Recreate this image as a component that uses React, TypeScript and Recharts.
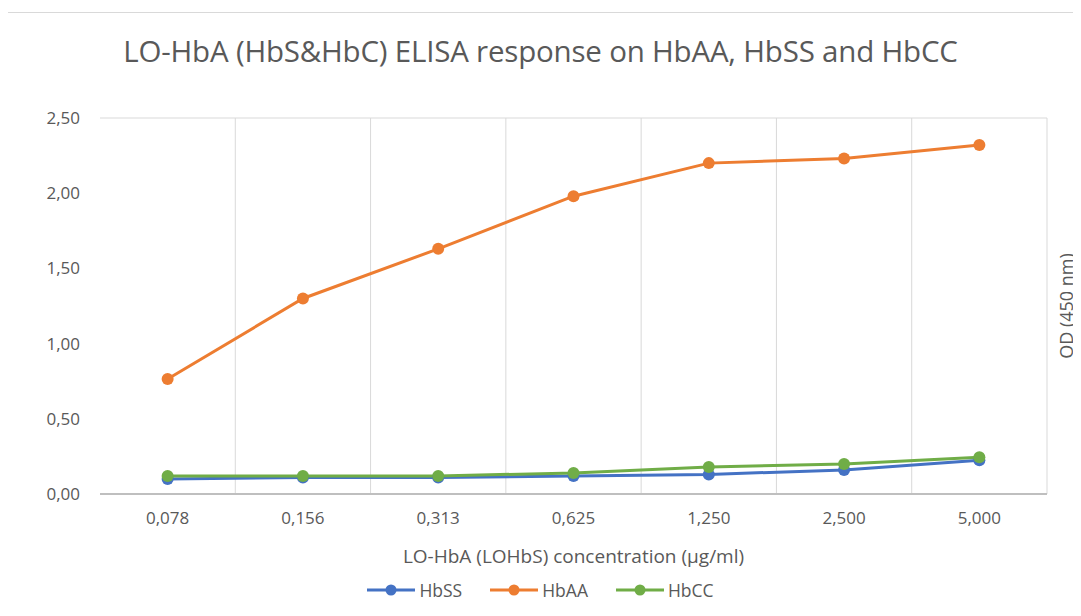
import { LineChart, Line, XAxis, YAxis, CartesianGrid, Legend } from 'recharts';

const concentrations = ['0,078', '0,156', '0,313', '0,625', '1,250', '2,500', '5,000'];
const hbSS = [0.1, 0.11, 0.11, 0.12, 0.13, 0.16, 0.225];
const hbAA = [0.765, 1.3, 1.63, 1.98, 2.2, 2.23, 2.32];
const hbCC = [0.12, 0.12, 0.12, 0.14, 0.18, 0.2, 0.245];
const yTicks = [0, 0.5, 1, 1.5, 2, 2.5];

const seriesList = [
  { key: 'hbSS', name: 'HbSS', color: '#4472C4' },
  { key: 'hbAA', name: 'HbAA', color: '#ED7D31' },
  { key: 'hbCC', name: 'HbCC', color: '#70AD47' },
];

const data = concentrations.map((c, i) => ({
  conc: c,
  hbSS: hbSS[i],
  hbAA: hbAA[i],
  hbCC: hbCC[i],
}));

const FONT = '"Open Sans", sans-serif';
const TEXT = '#595959';

const fmt = (v: number) => v.toFixed(2).replace('.', ',');

function LegendContent() {
  return (
    <div style={{ display: 'flex', justifyContent: 'center', gap: 28, fontFamily: FONT, fontSize: 17.5, color: TEXT, height: 24, alignItems: 'center' }}>
      {seriesList.map((s) => (
        <div key={s.key} style={{ display: 'flex', alignItems: 'center', gap: 4 }}>
          <svg width={48} height={14}>
            <line x1={0} y1={7} x2={48} y2={7} stroke={s.color} strokeWidth={3} />
            <circle cx={24} cy={7} r={5.5} fill={s.color} />
          </svg>
          <span>{s.name}</span>
        </div>
      ))}
    </div>
  );
}

export default function App() {
  return (
    <div style={{ position: 'relative', width: 1081, height: 616, margin: -8, background: '#fff', overflow: 'hidden' }}>
      <div style={{ position: 'absolute', left: 5, top: 12, width: 1200, height: 700, border: '1px solid #d9d9d9' }} />
      <div style={{ position: 'absolute', left: 0, top: 30, width: 1081, textAlign: 'center', fontFamily: FONT, fontSize: 29.5, color: TEXT, letterSpacing: -0.2 }}>
        LO-HbA (HbS&amp;HbC) ELISA response on HbAA, HbSS and HbCC
      </div>
      <LineChart width={1081} height={616} data={data} margin={{ top: 118, right: 0, left: 0, bottom: 38 }}>
        <CartesianGrid
          stroke="#d9d9d9"
          verticalCoordinatesGenerator={({ offset }: any) =>
            concentrations.map((_, i) => offset.left + ((i + 1) * offset.width) / concentrations.length)
          }
        />
        <XAxis
          dataKey="conc"
          scale="band"
          height={60}
          tickLine={false}
          axisLine={{ stroke: '#bfbfbf', strokeWidth: 2 }}
          tick={{ fill: TEXT, fontSize: 17, fontFamily: FONT }}
          tickMargin={12}
          label={{ value: 'LO-HbA (LOHbS) concentration (µg/ml)', position: 'insideBottom', offset: -9, fill: TEXT, fontSize: 19, fontFamily: FONT }}
        />
        <YAxis
          yAxisId="left"
          width={100}
          domain={[0, 2.5]}
          ticks={yTicks}
          tickFormatter={fmt}
          axisLine={false}
          tickLine={false}
          tickMargin={14}
          tick={{ fill: TEXT, fontSize: 17, fontFamily: FONT }}
        />
        <YAxis
          yAxisId="right"
          orientation="right"
          width={34}
          domain={[0, 2.5]}
          ticks={yTicks}
          tick={false}
          axisLine={false}
          tickLine={false}
          label={{ value: 'OD (450 nm)', angle: -90, position: 'center', dx: 3, fill: TEXT, fontSize: 18, fontFamily: FONT }}
        />
        <Legend verticalAlign="bottom" content={<LegendContent />} wrapperStyle={{ height: 24, bottom: 14 }} />
        {seriesList.map((s) => (
          <Line
            key={s.key}
            yAxisId="left"
            type="linear"
            dataKey={s.key}
            name={s.name}
            stroke={s.color}
            strokeWidth={3}
            dot={{ r: 6, fill: s.color, stroke: s.color, strokeWidth: 0 }}
            isAnimationActive={false}
          />
        ))}
      </LineChart>
    </div>
  );
}
